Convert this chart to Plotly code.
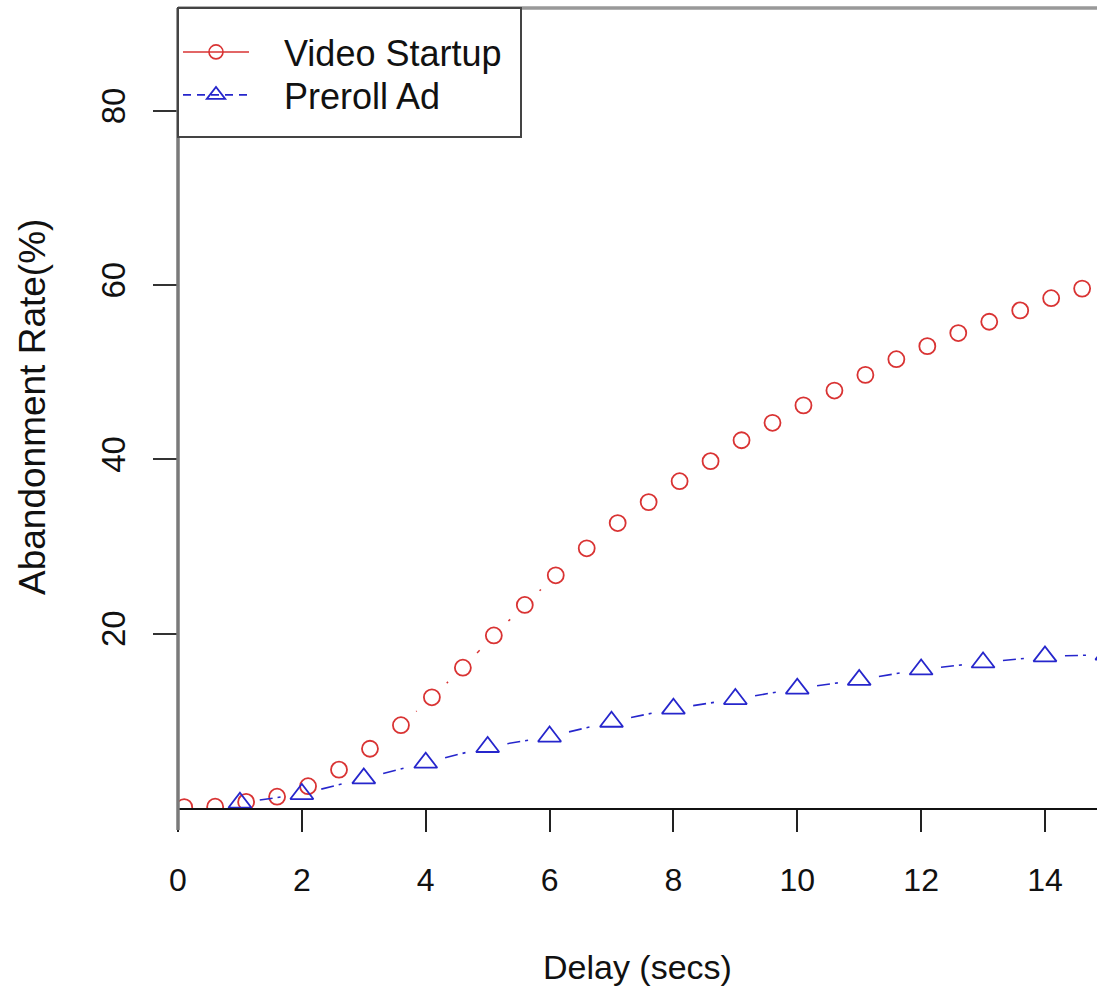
import math
import plotly.graph_objects as go

# ---------------- data ----------------
delay_startup = [0.1, 0.6, 1.1, 1.6, 2.1, 2.6, 3.1, 3.6, 4.1, 4.6, 5.1, 5.6, 6.1, 6.6, 7.1,
                 7.6, 8.1, 8.6, 9.1, 9.6, 10.1, 10.6, 11.1, 11.6, 12.1, 12.6, 13.1, 13.6, 14.1, 14.6]
abandon_startup = [0.1, 0.15, 0.7, 1.3, 2.5, 4.4, 6.8, 9.5, 12.7, 16.1, 19.8, 23.3, 26.7, 29.8, 32.7,
                   35.1, 37.5, 39.8, 42.2, 44.2, 46.2, 47.9, 49.7, 51.5, 53.0, 54.5, 55.8, 57.1, 58.5, 59.6]
delay_preroll = [1, 2, 3, 4, 5, 6, 7, 8, 9, 10, 11, 12, 13, 14, 15]
abandon_preroll = [0.6, 1.6, 3.4, 5.2, 7.0, 8.2, 9.9, 11.4, 12.5, 13.7, 14.7, 15.9, 16.7, 17.4, 17.6]
x_ticks = [0, 2, 4, 6, 8, 10, 12, 14]
y_ticks = [20, 40, 60, 80]
series_names = ["Video Startup", "Preroll Ad"]

# ---------------- layout constants ----------------
W, H = 1097, 986
MARGIN = dict(l=178, r=0, t=8, b=178)
XR = [0, 14.84]
YR = [0, 91.8]
RED = "#d93333"
BLUE = "#2626cc"
FONT = "Liberation Sans, Arial, Helvetica, sans-serif"
NBSP = "\u00a0"

pw = W - MARGIN["l"] - MARGIN["r"]
ph = H - MARGIN["t"] - MARGIN["b"]
sx = pw / (XR[1] - XR[0])
sy = ph / (YR[1] - YR[0])


def gapped(xs, ys, gap_px):
    """R type='b' style: line segments between points with gaps around the symbols."""
    gx, gy = [], []
    for i in range(len(xs) - 1):
        x0, y0, x1, y1 = xs[i], ys[i], xs[i + 1], ys[i + 1]
        d = math.hypot((x1 - x0) * sx, (y1 - y0) * sy)
        if d <= 2 * gap_px:
            continue
        f = gap_px / d
        gx += [x0 + (x1 - x0) * f, x1 - (x1 - x0) * f, None]
        gy += [y0 + (y1 - y0) * f, y1 - (y1 - y0) * f, None]
    return gx, gy


def paper_y(py):
    return (H - MARGIN["b"] - py) / ph


def paper_x(px):
    return (px - MARGIN["l"]) / pw


fig = go.Figure()

rx, ry = gapped(delay_startup, abandon_startup, 20.5)
fig.add_trace(go.Scatter(x=rx, y=ry, mode="lines", line=dict(color=RED, width=1.5),
                         showlegend=False, hoverinfo="skip"))
fig.add_trace(go.Scatter(x=delay_startup, y=abandon_startup, mode="markers",
                         marker=dict(symbol="circle-open", size=16, color=RED,
                                     line=dict(color=RED, width=1.8)),
                         showlegend=False))

bx, by = gapped(delay_preroll, abandon_preroll, 20)
fig.add_trace(go.Scatter(x=bx, y=by, mode="lines",
                         line=dict(color=BLUE, width=1.6, dash="13px,5px,3px,60px"),
                         showlegend=False, hoverinfo="skip"))
fig.add_trace(go.Scatter(x=delay_preroll, y=abandon_preroll, mode="markers",
                         marker=dict(symbol="triangle-up-open", size=20, color=BLUE,
                                     line=dict(color=BLUE, width=1.8)),
                         showlegend=False))

# legend-only entries (one legend per row so the row spacing can follow the reference)
fig.add_trace(go.Scatter(x=[None], y=[None], mode="lines+markers",
                         name=NBSP * 3 + series_names[0], legend="legend",
                         line=dict(color=RED, width=1.5),
                         marker=dict(symbol="circle-open", size=14, color=RED,
                                     line=dict(color=RED, width=1.6))))
fig.add_trace(go.Scatter(x=[None], y=[None], mode="lines+markers",
                         name=NBSP * 3 + series_names[1], legend="legend2",
                         line=dict(color=BLUE, width=1.6, dash="8px,6px"),
                         marker=dict(symbol="triangle-up-open", size=17, color=BLUE,
                                     line=dict(color=BLUE, width=1.8))))

leg_common = dict(x=0, xanchor="left", yanchor="middle", bgcolor="rgba(0,0,0,0)",
                  borderwidth=0, font=dict(size=36, color="#111"), itemwidth=66)

fig.update_layout(
    width=W, height=H, margin=MARGIN,
    paper_bgcolor="white", plot_bgcolor="white",
    font=dict(family=FONT, size=32, color="#111"),
    showlegend=True,
    legend=dict(y=paper_y(52), **leg_common),
    legend2=dict(y=paper_y(95), **leg_common),
    xaxis=dict(range=XR, tickvals=x_ticks, ticks="outside", ticklen=22, tickwidth=1.5,
               tickcolor="#222", showgrid=False, zeroline=False, showline=True,
               linecolor="#111", linewidth=2, ticklabelstandoff=21,
               tickfont=dict(size=32)),
    yaxis=dict(range=YR, tickvals=y_ticks, ticks="outside", ticklen=24, tickwidth=1.5,
               tickcolor="#333", showgrid=False, zeroline=False, showline=False,
               tickangle=-90, ticklabelstandoff=15, tickfont=dict(size=33)),
    shapes=[
        dict(type="line", xref="paper", yref="paper", x0=0, x1=0, y0=paper_y(830), y1=1.0,
             line=dict(color="#7a7a7a", width=3.5)),
        dict(type="line", xref="paper", yref="paper", x0=0, x1=1, y0=1.0, y1=1.0,
             line=dict(color="#999999", width=3.5)),
        dict(type="rect", xref="paper", yref="paper", x0=0, x1=paper_x(521),
             y0=paper_y(137), y1=1.0, fillcolor="white", layer="above",
             line=dict(color="#444444", width=2)),
    ],
    annotations=[
        dict(text="Delay (secs)", xref="paper", yref="paper", x=0.5, y=0,
             xanchor="center", yanchor="middle", yshift=-159, showarrow=False,
             font=dict(size=34, color="#111")),
        dict(text="Abandonment Rate(%)", xref="paper", yref="paper", x=0, y=paper_y(407),
             xanchor="center", yanchor="middle", xshift=-146, textangle=-90,
             showarrow=False, font=dict(size=37, color="#111")),
    ],
)

fig.write_html("out.html", config={"displayModeBar": False},
               post_script="document.body.style.margin='0px';document.body.style.overflow='hidden';")
